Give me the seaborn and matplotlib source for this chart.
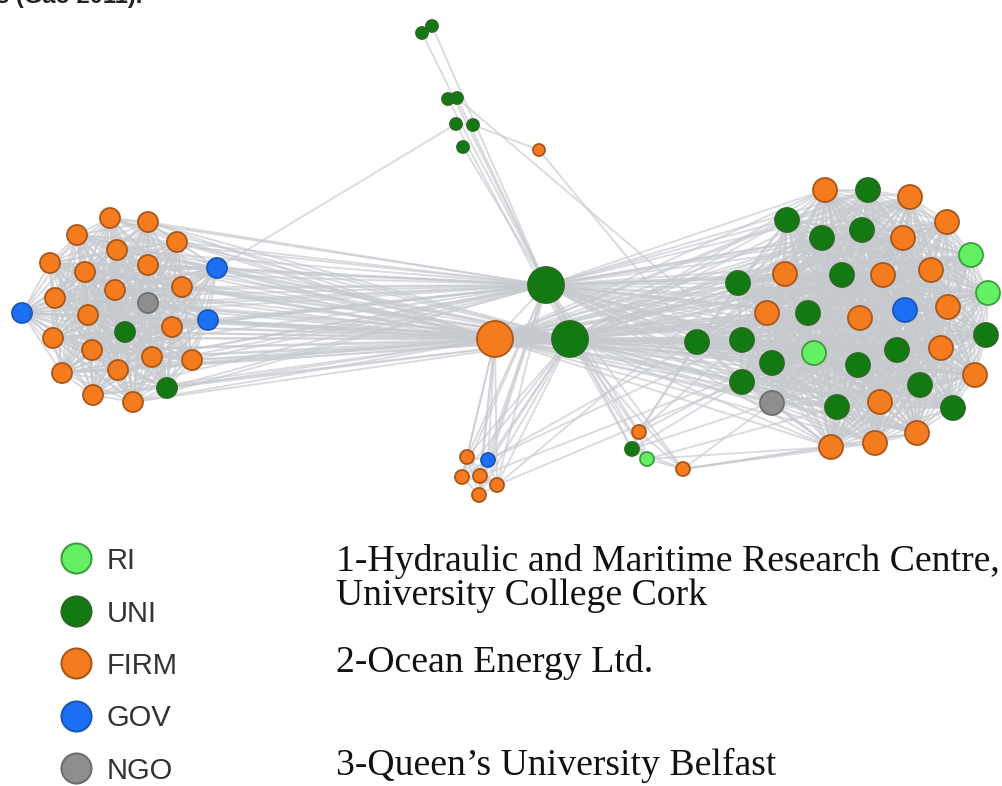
"""Collaboration network of ocean-energy actors (RI / UNI / FIRM / GOV / NGO)."""

import itertools

import matplotlib
matplotlib.use("Agg")
import matplotlib.pyplot as plt
from matplotlib.collections import LineCollection
import pandas as pd
import seaborn as sns

# ---- node layout (pixel coords, y downwards) ----
left_x = [110, 148, 77, 177, 50, 117, 148, 217, 85, 182, 55, 115, 148, 22, 88, 208,
          125, 172, 53, 92, 152, 192, 62, 118, 167, 93, 133]
left_y = [218, 222, 235, 242, 263, 250, 265, 268, 272, 287, 298, 290, 303, 313, 315, 320,
          332, 327, 338, 350, 357, 360, 373, 370, 388, 395, 402]
left_type = ["FIRM", "FIRM", "FIRM", "FIRM", "FIRM", "FIRM", "FIRM", "GOV", "FIRM", "FIRM",
             "FIRM", "FIRM", "NGO", "GOV", "FIRM", "GOV", "UNI", "FIRM", "FIRM", "FIRM",
             "FIRM", "FIRM", "FIRM", "FIRM", "UNI", "FIRM", "FIRM"]

right_x = [825, 868, 910, 787, 947, 822, 862, 903, 971, 738, 785, 842, 883, 931, 988, 767,
           808, 860, 905, 948, 697, 742, 986, 814, 772, 858, 897, 941, 975, 742, 772, 837,
           880, 920, 953, 917, 831, 875]
right_y = [190, 190, 197, 220, 222, 238, 230, 238, 255, 283, 274, 275, 275, 270, 293, 313,
           313, 318, 310, 307, 342, 340, 335, 353, 363, 365, 350, 348, 375, 382, 403, 407,
           402, 385, 408, 433, 447, 443]
right_type = ["FIRM", "UNI", "FIRM", "UNI", "FIRM", "UNI", "UNI", "FIRM", "RI", "UNI",
              "FIRM", "UNI", "FIRM", "FIRM", "RI", "FIRM", "UNI", "FIRM", "GOV", "FIRM",
              "UNI", "UNI", "UNI", "RI", "UNI", "UNI", "UNI", "FIRM", "FIRM", "UNI",
              "NGO", "UNI", "FIRM", "UNI", "UNI", "FIRM", "FIRM", "FIRM"]

# 1 = Hydraulic and Maritime Research Centre, 2 = Ocean Energy Ltd., 3 = Queen's
hub_x = [546, 495, 570]
hub_y = [285, 339, 339]
hub_type = ["UNI", "FIRM", "UNI"]

top_x = [422, 432, 448, 457, 456, 473, 463, 539]
top_y = [33, 26, 99, 98, 124, 125, 147, 150]
top_type = ["UNI", "UNI", "UNI", "UNI", "UNI", "UNI", "UNI", "FIRM"]

bl_x = [467, 488, 462, 480, 497, 479]
bl_y = [457, 460, 477, 476, 485, 495]
bl_type = ["FIRM", "GOV", "FIRM", "FIRM", "FIRM", "FIRM"]

bm_x = [639, 632, 647, 683]
bm_y = [432, 449, 459, 469]
bm_type = ["FIRM", "UNI", "RI", "FIRM"]

# ---- ties ----
complete_groups = ["left", "right", "bottom_left", "bottom_mid", "hub"]
group_links = [("left", "hub", [0, 1, 2]), ("right", "hub", [0, 1, 2]),
               ("bottom_left", "hub", [0, 1, 2]), ("bottom_mid", "hub", [0, 2])]
single_links = [
    (("top", 0), ("top", 1)), (("top", 2), ("top", 3)), (("top", 4), ("top", 5)),
    (("top", 5), ("top", 7)), (("top", 0), ("hub", 0)), (("top", 1), ("hub", 0)),
    (("top", 2), ("hub", 0)), (("top", 3), ("hub", 0)), (("top", 4), ("hub", 2)),
    (("top", 6), ("hub", 0)), (("top", 7), ("right", 20)), (("top", 3), ("right", 21)),
    (("left", 7), ("top", 4)),
    (("bottom_left", 1), ("right", 20)), (("bottom_left", 1), ("right", 21)),
    (("bottom_left", 4), ("right", 9)), (("bottom_left", 4), ("right", 29)),
    (("bottom_left", 3), ("right", 24)),
    (("bottom_mid", 0), ("right", 20)), (("bottom_mid", 0), ("right", 21)),
    (("bottom_mid", 0), ("right", 24)), (("bottom_mid", 1), ("right", 29)),
    (("bottom_mid", 1), ("right", 30)), (("bottom_mid", 2), ("right", 31)),
    (("bottom_mid", 2), ("right", 36)), (("bottom_mid", 0), ("right", 9)),
    (("bottom_mid", 3), ("right", 36)), (("bottom_mid", 3), ("right", 37)),
    (("bottom_mid", 3), ("right", 35)), (("bottom_mid", 3), ("right", 30)),
]

legend_labels = ["RI", "UNI", "FIRM", "GOV", "NGO"]
notes = ["1-Hydraulic and Maritime Research Centre,", "University College Cork",
         "2-Ocean Energy Ltd.", "3-Queen\u2019s University Belfast"]

# ---- styles ----
FILL = {"RI": "#63F063", "UNI": "#137A13", "FIRM": "#F57C1E", "GOV": "#1C6FF2", "NGO": "#8E8E8E"}
EDGE = {"RI": "#3E9E3E", "UNI": "#2A6A22", "FIRM": "#A9561A", "GOV": "#1A55B8", "NGO": "#6E6E6E"}
DIAM = {"left": 20, "right": 24, "hub": 36, "top": 12, "bottom_left": 14, "bottom_mid": 14}


def build_nodes():
    parts = {
        "left": (left_x, left_y, left_type),
        "right": (right_x, right_y, right_type),
        "hub": (hub_x, hub_y, hub_type),
        "top": (top_x, top_y, top_type),
        "bottom_left": (bl_x, bl_y, bl_type),
        "bottom_mid": (bm_x, bm_y, bm_type),
    }
    frames = []
    for g, (xs, ys, ts) in parts.items():
        frames.append(pd.DataFrame({"x": xs, "y": ys, "type": ts, "group": g, "idx": range(len(xs))}))
    return pd.concat(frames, ignore_index=True)


def build_edges(nodes):
    pos = {(r.group, r.idx): (r.x, r.y) for r in nodes.itertuples()}
    segs = []
    for g in complete_groups:
        sub = nodes[nodes["group"] == g]
        for a, b in itertools.combinations(sub["idx"], 2):
            segs.append([pos[(g, a)], pos[(g, b)]])
    for g, h, targets in group_links:
        sub = nodes[nodes["group"] == g]
        for a in sub["idx"]:
            for b in targets:
                segs.append([pos[(g, a)], pos[(h, b)]])
    for a, b in single_links:
        segs.append([pos[a], pos[b]])
    return segs


sns.set_theme(style="white")
plt.rcParams["font.family"] = ["Liberation Sans", "DejaVu Sans"]

nodes = build_nodes()
edges = build_edges(nodes)

fig = plt.figure(figsize=(10.03, 7.86), dpi=100)
ax = fig.add_axes([0, 0, 1, 1])

ax.add_collection(LineCollection(edges, colors="#c6c9ce", linewidths=1.4, alpha=0.65, zorder=1))

sizes = {g: (0.72 * d) ** 2 for g, d in DIAM.items()}
for t, sub in nodes.groupby("type"):
    sns.scatterplot(data=sub, x="x", y="y", size="group", sizes=sizes, color=FILL[t],
                    edgecolor=EDGE[t], linewidth=1.3, legend=False, ax=ax, zorder=3)

# legend
for i, lab in enumerate(legend_labels):
    yy = 558 + 52.5 * i
    ax.scatter([76], [yy], s=(0.72 * 30) ** 2, color=FILL[lab], edgecolors=EDGE[lab],
               linewidths=1.5, zorder=3)
    ax.text(107, yy, lab, fontsize=21, color="#333333", va="center_baseline", ha="left")

# notes on the right
for txt, base in zip(notes, [571, 605, 672, 775]):
    ax.text(336, base, txt, fontsize=27.2, family=["Liberation Serif", "DejaVu Serif"],
            color="#111111", va="baseline", ha="left")

# cut-off caption from the page above
ax.text(-4, 3, "s (Gao 2011).", fontsize=17, fontweight="bold", color="#222222",
        va="baseline", ha="left")

ax.set_xlim(0, 1003)
ax.set_ylim(786, 0)
ax.set_axis_off()

fig.savefig("out.png", dpi=100)
plt.close(fig)
